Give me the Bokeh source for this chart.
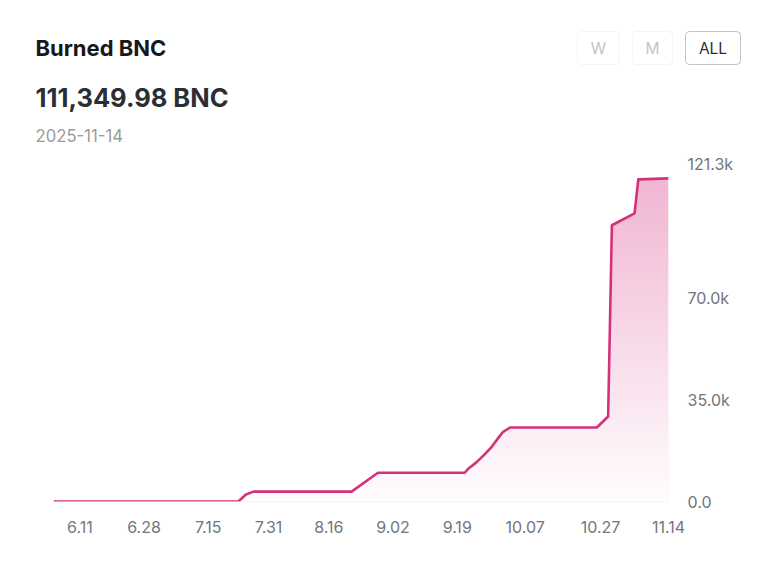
import numpy as np
import pandas as pd
from bokeh.plotting import figure
from bokeh.layouts import column
from bokeh.models import Range1d, FixedTicker, Label, BoxAnnotation
from bokeh.embed import file_html
from bokeh.resources import INLINE

# ---- data ----
dates = ["2025-06-04", "2025-07-23", "2025-07-25", "2025-07-27", "2025-08-22", "2025-08-29",
         "2025-09-21", "2025-09-22", "2025-09-24", "2025-09-26", "2025-09-28", "2025-09-30",
         "2025-10-01", "2025-10-03", "2025-10-26", "2025-10-29", "2025-10-30", "2025-11-05",
         "2025-11-06", "2025-11-14"]
burned = [0, 0, 2400, 3400, 3400, 9900,
          9900, 11400, 13400, 15900, 18600, 22100,
          23800, 25500, 25500, 29300, 95200, 99300,
          111000, 111349.98]
x_tick_dates = ["2025-06-11", "2025-06-28", "2025-07-15", "2025-07-31", "2025-08-16",
                "2025-09-02", "2025-09-19", "2025-10-07", "2025-10-27", "2025-11-14"]
x_tick_labels = ["6.11", "6.28", "7.15", "7.31", "8.16", "9.02", "9.19", "10.07", "10.27", "11.14"]
y_ticks = [0, 35000, 70000]
y_tick_labels = ["0.0", "35.0k", "70.0k"]
y_max = 121300
y_max_label = "121.3k"
title = "Burned BNC"
total_text = "111,349.98 BNC"
date_text = "2025-11-14"
buttons = ["W", "M", "ALL"]

def to_ms(ds):
    return [float(v) for v in (pd.to_datetime(ds).astype("int64") // 10**6)]

xs = to_ms(dates)
xt = to_ms(x_tick_dates)

FONT = "Inter"
LINE = "#d3327a"
AXIS_TXT = "#72767d"
W = 770
HEAD_H = 149
CHART_H = 413
FRAME_H = 352

# ---------------- header ----------------
h = figure(width=W, height=HEAD_H, output_backend="svg", toolbar_location=None,
           x_range=Range1d(0, W), y_range=Range1d(0, HEAD_H),
           x_axis_type=None, y_axis_type=None, min_border=0)
h.frame_align = False
h.outline_line_color = None
h.grid.visible = False
h.background_fill_color = "white"
h.border_fill_color = "white"

h.add_layout(Label(x=35, y=HEAD_H - 47, text=title,
                   text_font=FONT, text_font_size="22px", text_font_style="bold",
                   text_color="#16181c", text_baseline="middle"))
h.add_layout(Label(x=35, y=HEAD_H - 97, text=total_text,
                   text_font=FONT, text_font_size="25.5px", text_font_style="bold",
                   text_color="#2a2e35", text_baseline="middle"))
h.add_layout(Label(x=35, y=HEAD_H - 135, text=date_text,
                   text_font=FONT, text_font_size="16.7px",
                   text_color="#9a9a9a", text_baseline="middle"))

btn_boxes = [(577, 619), (632, 672), (685, 740)]
for (l, r), txt in zip(btn_boxes, buttons):
    active = txt == "ALL"
    h.add_layout(BoxAnnotation(left=l, right=r, top=HEAD_H - 31, bottom=HEAD_H - 64,
                               fill_color="white", fill_alpha=1,
                               line_color="#3a3a3a" if active else "#dcdcdc",
                               line_width=1, border_radius=4))
    h.add_layout(Label(x=(l + r) / 2, y=HEAD_H - 47.5, text=txt,
                       text_font=FONT, text_font_size="15.5px",
                       text_color="#2e2e2e" if active else "#c4c4c4",
                       text_align="center", text_baseline="middle"))

# ---------------- chart ----------------
p = figure(width=W, height=CHART_H, output_backend="svg", toolbar_location=None,
           x_range=Range1d(xs[0], xs[-1]), y_range=Range1d(0, y_max),
           y_axis_location="right",
           min_border_left=53, min_border_right=102, min_border_top=0,
           min_border_bottom=CHART_H - FRAME_H)
p.frame_align = False
p.outline_line_color = None
p.grid.visible = False
p.background_fill_color = "white"
p.border_fill_color = "white"

# area base fill
p.varea(x=xs, y1=0, y2=burned, fill_color="#f1b6d3")
# white fade overlay (vertical gradient)
n = 256
frac = np.linspace(0, 1, n)
alpha = (0.97 * (1 - frac) * 255).astype(np.uint8)
img = np.empty((n, 1), dtype=np.uint32)
view = img.view(dtype=np.uint8).reshape((n, 1, 4))
view[:, 0, 0] = 255
view[:, 0, 1] = 255
view[:, 0, 2] = 255
view[:, 0, 3] = alpha
p.image_rgba(image=[img], x=xs[0], y=0, dw=xs[-1] - xs[0], dh=max(burned))
# line
p.line(xs, burned, line_color=LINE, line_width=2.6, line_join="round")

# axes
xa = p.xaxis[0]
xa.ticker = FixedTicker(ticks=xt)
xa.major_label_overrides = {t: l for t, l in zip(xt, x_tick_labels)}

# top label of the value axis sits just below the axis top (top-aligned)
top_tick = y_max - 14 * y_max / FRAME_H
ya = p.yaxis[0]
ya.ticker = FixedTicker(ticks=y_ticks + [top_tick])
overrides = {t: l for t, l in zip(y_ticks, y_tick_labels)}
overrides[top_tick] = y_max_label
ya.major_label_overrides = overrides
for ax in (xa, ya):
    ax.axis_line_color = None
    ax.major_tick_line_color = None
    ax.minor_tick_line_color = None
    ax.major_label_text_font = FONT
    ax.major_label_text_font_size = "16px"
    ax.major_label_text_color = AXIS_TXT
    ax.major_label_standoff = 13

layout = column(h, p, spacing=0)
open("out.html", "w").write(file_html(layout, INLINE))
